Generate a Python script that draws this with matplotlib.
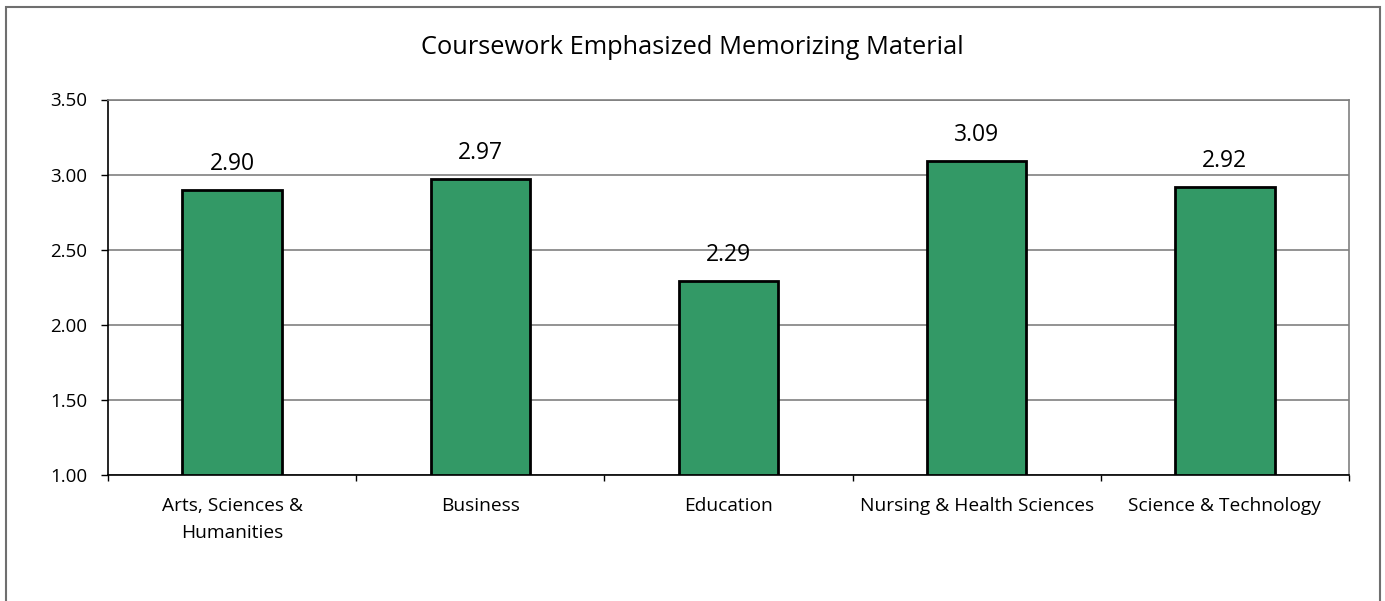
import numpy as np
import matplotlib
matplotlib.use("Agg")
import matplotlib.pyplot as plt
from matplotlib.patches import Rectangle

categories = ["Arts, Sciences &\nHumanities", "Business", "Education",
              "Nursing & Health Sciences", "Science & Technology"]
values = [2.90, 2.97, 2.29, 3.09, 2.92]
yticks = [1.00, 1.50, 2.00, 2.50, 3.00, 3.50]
title = "Coursework Emphasized Memorizing Material"

plt.rcParams['font.family'] = ['Open Sans', 'DejaVu Sans']

W, H = 1385, 601
fig = plt.figure(figsize=(W / 100, H / 100), dpi=100)

# outer chart border
fig.patches.append(Rectangle((6 / W, -0.05), 1374 / W, 1.05 - 7 / H, transform=fig.transFigure,
                             fill=False, edgecolor='#6f6f6f', linewidth=1.5))

left, right, top, bottom = 108, 1349, 99.5, 475
ax = fig.add_axes([left / W, 1 - bottom / H, (right - left) / W, (bottom - top) / H])

x = np.arange(len(categories))
ax.bar(x, np.array(values) - 1.0, bottom=1.0, width=0.4, color='#339966',
       edgecolor='black', linewidth=2, zorder=3)
for xi, v in zip(x, values):
    ax.annotate("%.2f" % v, xy=(xi, v), xytext=(0, 10), textcoords='offset points',
                ha='center', va='bottom', fontsize=16.5)

ax.set_xlim(-0.5, len(categories) - 0.5)
ax.set_ylim(1.0, 3.5)
ax.set_yticks(yticks)
ax.set_yticklabels(["%.2f" % t for t in yticks], fontsize=13.5)
ax.yaxis.grid(True, color='#808080', linewidth=1.2, zorder=0)
ax.set_axisbelow(True)

ax.set_xticks(x)
ax.set_xticklabels(categories, fontsize=13.8, linespacing=1.65)
ax.tick_params(axis='x', length=0, pad=16)
ax.set_xticks(np.arange(-0.5, len(categories)), minor=True)
ax.tick_params(axis='x', which='minor', length=4.5, width=1, color='black', direction='out')
ax.tick_params(axis='y', length=5, width=1, color='black', direction='out', pad=10)

ax.spines['left'].set_color('black')
ax.spines['bottom'].set_color('black')
ax.spines['top'].set_color('#808080')
ax.spines['right'].set_color('#808080')
for s in ax.spines.values():
    s.set_linewidth(1.2)

fig.text(0.5, 1 - 48 / H, title, ha='center', va='center', fontsize=18.3)

fig.savefig("out.png", dpi=100)
